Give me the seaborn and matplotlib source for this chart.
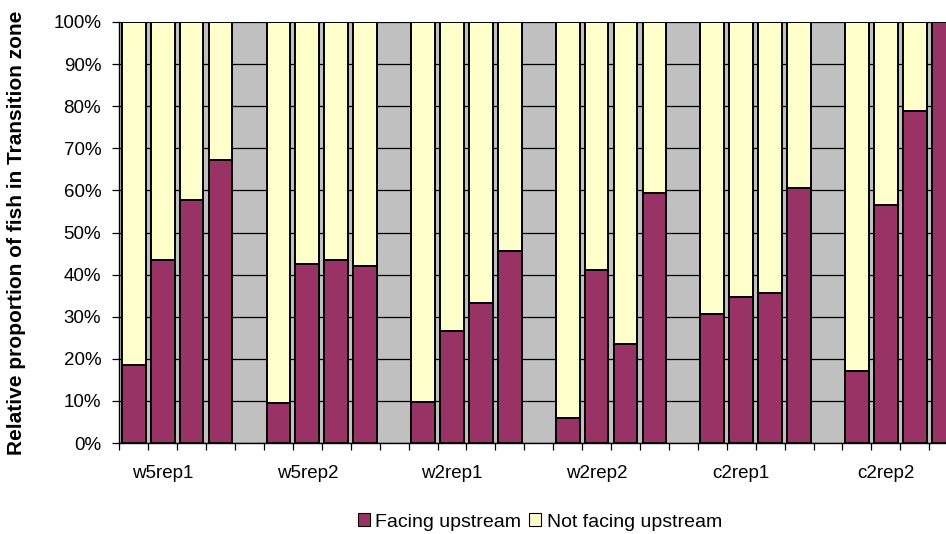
import matplotlib
matplotlib.use("Agg")
import matplotlib.pyplot as plt
from matplotlib.patches import Patch
from matplotlib.ticker import FixedLocator, PercentFormatter
import seaborn as sns
import pandas as pd

# ---- data ----
groups = ["w5rep1", "w5rep2", "w2rep1", "w2rep2", "c2rep1", "c2rep2"]
facing_w5rep1 = [18.6, 43.4, 57.7, 67.2]
facing_w5rep2 = [9.4, 42.6, 43.4, 42.0]
facing_w2rep1 = [9.7, 26.5, 33.2, 45.6]
facing_w2rep2 = [5.9, 41.2, 23.4, 59.5]
facing_c2rep1 = [30.6, 34.7, 35.7, 60.5]
facing_c2rep2 = [17.1, 56.6, 78.8, 100.0]
series_names = ["Facing upstream", "Not facing upstream"]
ytick_labels = [0, 10, 20, 30, 40, 50, 60, 70, 80, 90, 100]

facing = [facing_w5rep1, facing_w5rep2, facing_w2rep1,
          facing_w2rep2, facing_c2rep1, facing_c2rep2]

rows = []
order = []
for gi, (g, vals) in enumerate(zip(groups, facing)):
    for bi, v in enumerate(vals):
        key = f"{g}_{bi}"
        order.append(key)
        rows.append({"slot": key, "facing": v, "total": 100.0})
    if gi < len(groups) - 1:
        order.append(f"gap{gi}")
df = pd.DataFrame(rows)

PURPLE = "#993366"
YELLOW = "#FFFFCC"
GRAY = "#C0C0C0"

sns.set_style("white")
plt.rcParams["font.family"] = ["Liberation Sans", "DejaVu Sans"]
plt.rcParams["text.color"] = "black"
plt.rcParams["xtick.color"] = "black"
plt.rcParams["ytick.color"] = "black"
plt.rcParams["xtick.labelcolor"] = "black"
plt.rcParams["ytick.labelcolor"] = "black"

fig = plt.figure(figsize=(9.46, 5.34), dpi=100)
ax = fig.add_axes([119.3 / 946, 91 / 534, (958.2 - 119.3) / 946, 421 / 534])
ax.set_facecolor(GRAY)

bw = 0.82
sns.barplot(data=df, x="slot", y="total", order=order, color=YELLOW,
            width=bw, edgecolor="black", linewidth=1.4, saturation=1,
            errorbar=None, ax=ax, zorder=2)
sns.barplot(data=df, x="slot", y="facing", order=order, color=PURPLE,
            width=bw, edgecolor="black", linewidth=1.4, saturation=1,
            errorbar=None, ax=ax, zorder=3)

n = len(order)
ax.set_xlim(-0.5, n - 0.5)
ax.set_ylim(0, 100)

# gridlines
ax.yaxis.grid(True, color="black", linewidth=0.9)
ax.xaxis.grid(False)
ax.set_axisbelow(True)

# y ticks
ax.yaxis.set_major_locator(FixedLocator(ytick_labels))
ax.yaxis.set_major_formatter(PercentFormatter(decimals=0))
ax.tick_params(axis="y", direction="out", length=5, width=0.9, color="black",
               labelcolor="black", labelsize=13.5, pad=8, left=True)

# x ticks: boundaries as minor ticks, labels at the second bar of each group
label_pos = [order.index(f"{g}_1") for g in groups]
ax.xaxis.set_major_locator(FixedLocator(label_pos))
ax.set_xticklabels(groups)
ax.xaxis.set_minor_locator(FixedLocator([i - 0.5 for i in range(n + 1)]))
ax.tick_params(axis="x", which="major", length=0, labelsize=13.5, pad=16,
               labelcolor="black")
ax.tick_params(axis="x", which="minor", direction="out", length=5, width=0.9,
               color="black", bottom=True)

ax.set_xlabel("")
ax.set_ylabel("")
for s in ["top", "right"]:
    ax.spines[s].set_visible(False)
for s in ["left", "bottom"]:
    ax.spines[s].set_color("black")
    ax.spines[s].set_linewidth(1.0)

fig.text(17 / 946, 1 - 233 / 534, "Relative proportion of fish in Transition zone",
         rotation=90, ha="center", va="center", fontsize=15, fontweight="bold",
         color="black")

handles = [Patch(facecolor=PURPLE, edgecolor="black", linewidth=0.8),
           Patch(facecolor=YELLOW, edgecolor="black", linewidth=0.8)]
leg = fig.legend(handles, series_names, loc="center",
                 bbox_to_anchor=(540 / 946, 1 - 522 / 534),
                 ncol=2, frameon=False, fontsize=14, handlelength=0.6,
                 handleheight=0.6, handletextpad=0.3, columnspacing=0.4)
for t in leg.get_texts():
    t.set_color("black")

fig.savefig("out.png", dpi=100)
